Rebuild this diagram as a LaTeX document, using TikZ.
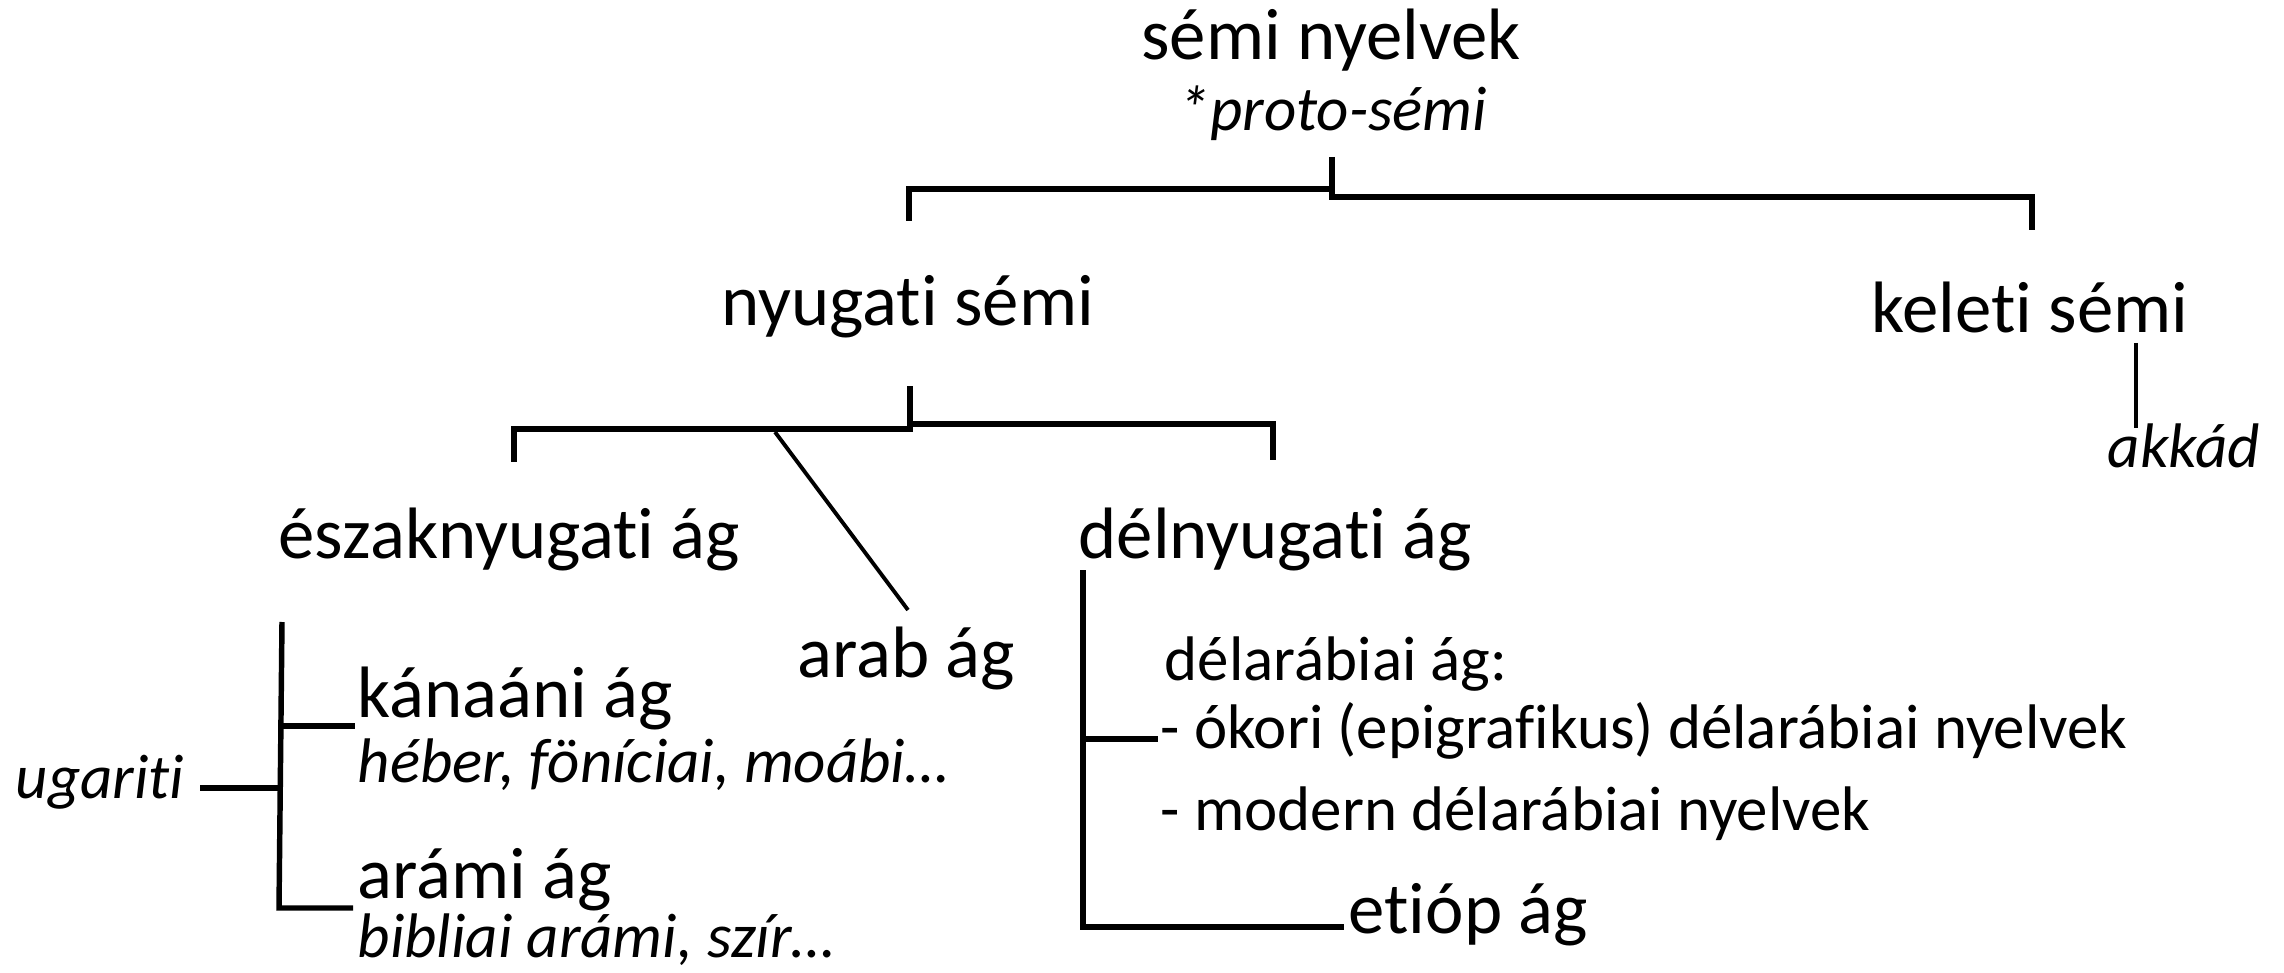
\documentclass[tikz,border=0pt]{standalone}
\usepackage{fontspec}
\setmainfont{Carlito}[Ligatures=NoCommon]
\usetikzlibrary{positioning, calc}

\begin{document}
\begin{tikzpicture}[x=0.01cm, y=-0.01cm,
  lang/.style={font=\fontsize{20.7}{24}\selectfont, inner sep=0pt, anchor=base west},
  sub/.style={font=\fontsize{17.9}{21}\selectfont, inner sep=0pt, anchor=base west},
  ex/.style={sub, font=\fontsize{17.9}{21}\selectfont\itshape},
  bar/.style={line width=1.55pt},
  twig/.style={line width=1.1pt}]
  \useasboundingbox (0,0) rectangle (2284,973);

  % Root
  \node[lang, anchor=base] (semi) at (1331,60) {sémi nyelvek};
  \node[ex, anchor=base] (proto) at (1333,131) {*proto-sémi};

  % Main branches
  \node[lang] (nyugati) at (721,325) {nyugati sémi};
  \node[lang] (keleti) at (1871,333) {keleti sémi};
  \node[ex] (akkad) at (2107,467) {akkád};

  % West Semitic
  \node[lang] (eszak) at (278,558) {északnyugati ág};
  \node[lang] (delny) at (1078,558) {délnyugati ág};
  \node[lang] (arab) at (797,677) {arab ág};

  % Northwest
  \node[lang] (kanaani) at (357,717) {kánaáni ág};
  \node[ex] (heber) at (357,782) {héber, föníciai, moábi…};
  \node[ex] (ugariti) at (15,798) {ugariti};
  \node[lang] (arami) at (357,898) {arámi ág};
  \node[ex] (bibliai) at (357,957) {bibliai arámi, szír…};

  % Southwest
  \node[sub] (delarab) at (1164,680) {délarábiai ág:};
  \node[sub] (okori) at (1160,748) {- ókori (epigrafikus) délarábiai nyelvek};
  \node[sub] (modern) at (1160,830) {- modern délarábiai nyelvek};
  \node[lang] (etiop) at (1348,933) {etióp ág};

  % Brackets
  \coordinate (root-stem) at (1332,157);
  \coordinate (nyu-tip) at (909,221);
  \coordinate (kel-tip) at (2032,230);
  \draw[bar] (root-stem) -- (1332,197) -- (2032,197) -- (kel-tip);
  \draw[bar] (1332,189) -- (909,189) -- (nyu-tip);

  \coordinate (w-stem) at (910,386);
  \coordinate (eszak-tip) at (514,462);
  \coordinate (delny-tip) at (1273,460);
  \draw[bar] (w-stem) -- (910,429) -- (514,429) -- (eszak-tip);
  \draw[bar] (908,424) -- (1273,424) -- (delny-tip);
  \coordinate (arab-tip) at (908,610);
  \draw[twig] (775,432) -- (arab-tip);

  \draw[twig] (2136,343) -- (2136,428);

  \draw[bar] (282,622) -- (279,908) -- (353,908);
  \draw[bar] (281,726) -- (355,726);
  \draw[bar] (200,788) -- (281,788);

  \draw[bar] (1083,570) -- (1083,927) -- (1344,927);
  \draw[bar] (1083,739) -- (1158,739);
\end{tikzpicture}
\end{document}
